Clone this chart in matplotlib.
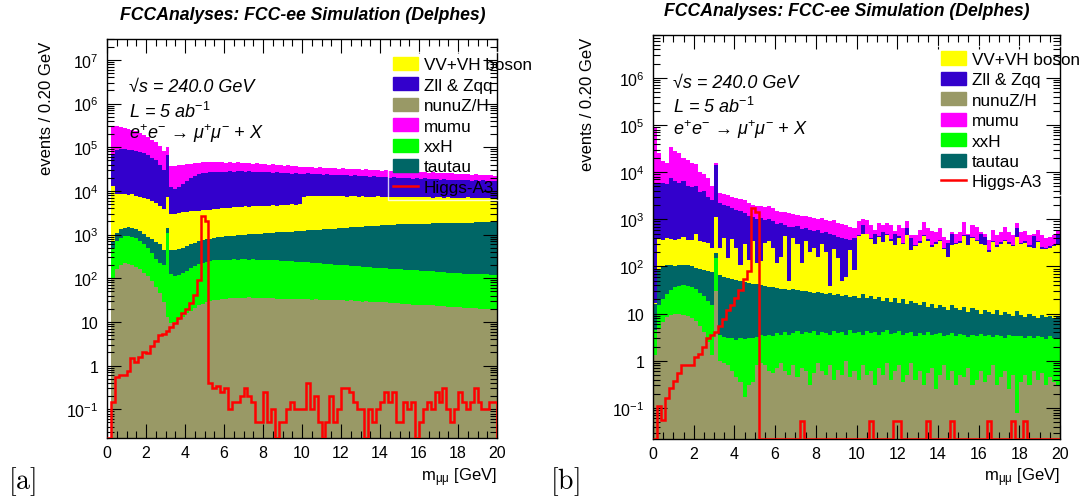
import numpy as np
import matplotlib
matplotlib.use('Agg')
import matplotlib.pyplot as plt
from matplotlib.patches import Patch
from matplotlib.lines import Line2D
from matplotlib.ticker import MultipleLocator, LogLocator, NullFormatter

plt.rcParams['font.family'] = ['Liberation Sans', 'DejaVu Sans']
plt.rcParams['mathtext.fontset'] = 'custom'
plt.rcParams['mathtext.rm'] = 'Liberation Sans'
plt.rcParams['mathtext.it'] = 'Liberation Sans:italic'
plt.rcParams['mathtext.bf'] = 'Liberation Sans:bold'

# m_mumu binning: 100 bins of 0.20 GeV
edges = np.linspace(0, 20, 101)

labels = ['VV+VH boson', 'Zll & Zqq', 'nunuZ/H', 'mumu', 'xxH', 'tautau', 'Higgs-A3']
colors = {'vv': '#ffff00', 'zll': '#3300cc', 'nunu': '#999966',
          'mumu': '#ff00ff', 'xxh': '#00ff00', 'tautau': '#006666'}

# ---------------- panel [a] : events per bin ----------------
a_nunu = [0, 100, 160, 200, 220, 215, 205, 185, 160, 135,
          110, 85, 62, 45, 28, 13, 9.5, 10, 11, 13,
          16, 18, 21, 24, 26, 28, 30, 31, 32, 33,
          34, 35, 35, 36, 36, 36, 37, 36, 36, 36,
          35, 35, 35, 34, 34, 34, 34, 33, 34, 33,
          33, 33, 32, 33, 32, 32, 32, 31, 32, 31,
          31, 30, 31, 30, 30, 29, 30, 29, 29, 28,
          28, 28, 27, 27, 27, 26, 26, 26, 25, 25,
          25, 24, 24, 24, 23, 23, 23, 22, 22, 22,
          22, 21, 21, 21, 21, 20, 20, 20, 20, 20]
a_xxh = [0, 400, 540, 650, 700, 715, 695, 645, 560, 465,
         370, 285, 220, 175, 170, 1050, 115, 105, 110, 117,
         134, 152, 169, 186, 199, 212, 220, 224, 228, 229,
         231, 233, 235, 232, 236, 234, 231, 234, 230, 228,
         227, 225, 223, 221, 218, 216, 213, 211, 206, 203,
         200, 197, 194, 189, 187, 184, 180, 178, 174, 172,
         169, 167, 163, 161, 158, 156, 152, 150, 147, 145,
         142, 140, 138, 136, 134, 133, 131, 129, 128, 126,
         124, 123, 121, 119, 118, 116, 114, 113, 111, 109,
         108, 107, 106, 105, 104, 104, 103, 102, 101, 100]
a_tautau = [0, 200, 400, 500, 530, 570, 550, 520, 480, 450,
            420, 410, 400, 380, 250, 330, 325, 325, 340, 370,
            400, 430, 460, 490, 515, 540, 560, 585, 600, 618,
            640, 650, 670, 690, 710, 720, 740, 760, 780, 790,
            810, 830, 840, 860, 880, 900, 910, 930, 950, 960,
            990, 1010, 1030, 1060, 1080, 1100, 1130, 1150, 1170, 1200,
            1220, 1240, 1270, 1290, 1310, 1330, 1360, 1380, 1400, 1430,
            1450, 1470, 1490, 1520, 1540, 1550, 1560, 1580, 1590, 1600,
            1610, 1620, 1640, 1650, 1660, 1670, 1680, 1700, 1710, 1720,
            1730, 1740, 1750, 1760, 1780, 1780, 1790, 1790, 1800, 1800]
a_vv = [0, 12300, 7400, 7250, 6850, 6700, 6950, 6450, 6100, 5950,
        5600, 5220, 4520, 3900, 3350, 6000, 2550, 2560, 2640, 2700,
        2750, 2800, 2850, 2700, 2860, 2920, 2790, 2960, 3040, 3120,
        3200, 3080, 3260, 3340, 3220, 3400, 3290, 3470, 3360, 3540,
        3430, 3510, 3600, 3480, 3670, 3550, 3640, 3720, 3610, 3700,
        6180, 6360, 6240, 6420, 6300, 6180, 6360, 6240, 6120, 6200,
        6080, 5960, 6140, 6020, 5800, 5980, 5860, 5740, 5820, 5900,
        5680, 5760, 5540, 5620, 5700, 5490, 5580, 5370, 5560, 5450,
        5340, 5430, 5320, 5210, 5400, 5290, 5180, 5270, 5060, 5150,
        5140, 5030, 5220, 5010, 5100, 4900, 4990, 5090, 4880, 4980]
a_zll = [0, 57000, 76500, 81400, 81700, 79800, 76600, 74200, 70700, 65000,
         59500, 52000, 44800, 35500, 26200, 58600, 9000, 8000, 8900, 10800,
         13700, 16600, 18500, 20600, 21400, 22300, 22900, 23200, 23100, 23500,
         22900, 24000, 23300, 24200, 23800, 23100, 23700, 22500, 23100, 22400,
         22000, 22400, 21300, 21900, 21200, 20800, 21200, 20100, 20700, 20100,
         17100, 17400, 16500, 16800, 16400, 16000, 16300, 15400, 16000, 15400,
         15000, 15600, 14400, 15000, 14700, 14000, 14600, 13700, 14100, 13500,
         13200, 13600, 12800, 13200, 12600, 12300, 12700, 12400, 11700, 12300,
         11900, 12300, 11400, 12000, 11300, 10900, 11500, 10900, 10600, 11000,
         10500, 11100, 10400, 10100, 10500, 10200, 10600, 10000, 9700, 10100]
a_mumu = [0, 240000, 215000, 200000, 185000, 177000, 160000, 148000, 132000, 118000,
          104000, 92000, 80000, 65000, 50000, 34000, 26000, 27000, 27000, 26000,
          24000, 22000, 21000, 20000, 20000, 19000, 19500, 18000, 19000, 17500,
          17000, 17000, 16500, 16500, 15000, 16500, 15000, 15000, 15500, 15000,
          14500, 13000, 15000, 13500, 13000, 12500, 13000, 13000, 11500, 11000,
          10500, 11000, 11000, 9500, 11000, 10500, 9000, 11000, 9500, 9000,
          10500, 9000, 9000, 9500, 9000, 8500, 9000, 9000, 8000, 9000,
          8500, 8500, 8500, 8500, 8000, 9000, 8000, 8000, 9000, 7500,
          8000, 7000, 7500, 7500, 7000, 8000, 6500, 7500, 7500, 6500,
          7000, 6000, 7000, 6500, 6500, 6000, 6000, 5500, 6500, 5000]
a_higgs = [0, 0.15, 0.55, 0.6, 0.6, 0.75, 1.5, 1.2, 1.6, 2.1,
           1.9, 2.8, 3.6, 5.0, 5.4, 6.2, 7.5, 9.5, 12, 16,
           20, 27, 42, 90, 2600, 2000, 0.4, 0.3, 0.35, 0.25,
           0.3, 0.1, 0.15, 0.15, 0.2, 0.3, 0.2, 0.15, 0.05, 0.05,
           0.25, 0.05, 0.1, 0, 0.05, 0.05, 0.1, 0.15, 0.1, 0.1,
           0.1, 0.4, 0.1, 0.2, 0.05, 0, 0.05, 0.2, 0.05, 0.1,
           0.3, 0.3, 0.25, 0.15, 0.1, 0.1, 0, 0.1, 0.05, 0.1,
           0.15, 0.25, 0.15, 0.25, 0.05, 0.05, 0.15, 0.1, 0.15, 0,
           0.05, 0.1, 0.15, 0.1, 0.25, 0.15, 0.3, 0.1, 0.05, 0.1,
           0.25, 0.15, 0.1, 0.15, 0.3, 0.15, 0.1, 0.1, 0.15, 0.15]

# ---------------- panel [b] : events per bin ----------------
b_nunu = [1.3, 4.8, 6.6, 8.5, 9.5, 10, 10, 9.5, 9, 8,
          7, 5.5, 4, 2.5, 1.3, 30, 1.0, 0.9, 0.8, 0.6,
          0.45, 0.35, 0.17, 0.3, 0.35, 0.8, 0.9, 0.8, 0.6, 0.55,
          0.7, 0.9, 0.6, 0.5, 0.8, 0.45, 0.7, 0.6, 0.3, 0.55,
          0.9, 0.6, 0.5, 0.8, 0.4, 0.65, 0.5, 1.0, 0.45, 0.6,
          0.4, 0.8, 0.5, 0.6, 0.3, 0.7, 0.5, 0.9, 0.4, 0.6,
          0.8, 0.35, 0.5, 0.9, 0.4, 0.6, 0.3, 0.55, 0.7, 0.25,
          0.5, 0.8, 0.4, 0.6, 0.3, 0.5, 0.45, 0.7, 0.3, 0.4,
          0.6, 0.35, 0.5, 0.8, 0.3, 0.45, 0.6, 0.25, 0.5, 0.08,
          0.35, 0.5, 0.3, 0.6, 0.4, 0.55, 0.3, 0.45, 0.35, 0.3]
b_xxh = [3.2, 10.2, 13.4, 17.5, 22.5, 26, 28, 30.5, 30, 29,
         26, 22.5, 20, 16.5, 13.7, 120, 2.5, 2.3, 2.2, 2.4,
         2.35, 2.65, 2.73, 2.8, 2.65, 2.4, 2.6, 2.5, 3.0, 2.85,
         3.1, 2.6, 3.4, 3.1, 3.1, 3.75, 3.0, 3.4, 3.5, 3.75,
         2.7, 3.5, 3.4, 2.7, 3.8, 3.15, 3.5, 2.6, 3.95, 3.3,
         3.6, 2.8, 3.8, 3.2, 3.8, 2.8, 3.5, 3.5, 3.3, 3.3,
         3.4, 3.25, 3.3, 3.2, 3.0, 3.3, 3.3, 3.45, 2.8, 3.45,
         3.4, 2.6, 3.2, 3.2, 3.0, 3.2, 3.05, 2.5, 3.3, 3.0,
         3.1, 2.95, 3.0, 2.4, 3.3, 2.95, 2.5, 3.25, 2.8, 3.2,
         3.05, 2.6, 3.0, 2.4, 3.0, 2.65, 2.6, 2.85, 2.75, 2.6]
b_tautau = [11.5, 75, 80, 79, 73, 64, 67, 70, 66, 63,
            62, 62, 61, 61, 60, 40, 61.5, 56.8, 55, 52,
            49.2, 47, 45.1, 41.9, 40, 38.8, 36.5, 34.7, 33.4, 32.6,
            31.2, 30.5, 29, 28.4, 30.1, 26.8, 26.3, 26, 25.2, 23.7,
            25.4, 22.9, 22.1, 23.5, 20.8, 22.2, 20, 21.4, 18.6, 20.1,
            18, 22.4, 16.7, 20.2, 15.9, 19.5, 15, 17.6, 14.3, 17.1,
            12.8, 16.4, 12.2, 14.9, 13.6, 11.1, 14.4, 10, 12.5, 9.3,
            11.1, 10.6, 8.4, 11.2, 9.7, 8.3, 10.5, 7.8, 9.4, 8.6,
            6.3, 8.7, 7.5, 6.8, 8.4, 6.1, 7.9, 6.5, 5.7, 8,
            6.1, 5.4, 6.7, 6.0, 4.6, 6.3, 5.6, 5.7, 4.9, 5.6]
b_vv = [0.5, 290, 270, 295, 285, 260, 275, 310, 265, 260,
        385, 260, 245, 230, 175, 910, 185, 340, 92, 325,
        198, 60, 252, 95, 307, 78, 90, 282, 313, 214,
        85, 126, 417, 18, 366, 269, 90, 320, 171, 222,
        131, 273, 174, 11, 215, 124, 26, 35, 197, 61,
        428, 474, 459, 356, 280, 397, 311, 438, 332, 259,
        393, 280, 454, 201, 253, 305, 432, 336, 244, 287,
        325, 216, 148, 265, 287, 308, 436, 269, 387, 338,
        290, 268, 189, 320, 248, 290, 339, 290, 261, 409,
        290, 311, 250, 241, 322, 230, 221, 241, 262, 271]
b_zll = [5480, 5420, 5630, 5100, 7110, 6140, 5620, 6080, 4630, 4440,
         4720, 3450, 3670, 2690, 2350, 12900, 1950, 1600, 1750, 1320,
         1350, 1390, 1050, 1060, 750, 880, 920, 630, 650, 650,
         680, 660, 300, 650, 280, 420, 500, 290, 380, 310,
         440, 220, 350, 442, 220, 280, 350, 320, 140, 315,
         20, 250, 20, 30, 180, 20, 200, 20, 30, 200,
         25, 20, 200, 180, 20, 30, 20, 25, 20, 30,
         25, 20, 150, 200, 20, 25, 20, 180, 25, 20,
         200, 150, 20, 25, 20, 30, 20, 25, 20, 250,
         20, 25, 20, 200, 20, 25, 20, 25, 20, 220]
b_mumu = [79500, 19200, 11000, 10500, 27500, 21500, 19000, 13500, 13000, 11200,
          9800, 6200, 5000, 4500, 2400, 2000, 1500, 1500, 1400, 1300,
          1200, 1200, 1250, 1000, 900, 900, 850, 850, 900, 800,
          700, 630, 650, 650, 620, 530, 580, 510, 520, 490,
          400, 530, 400, 420, 490, 420, 400, 380, 340, 250,
          430, 250, 450, 350, 110, 380, 230, 340, 380, 85,
          325, 320, 230, 60, 175, 240, 420, 265, 285, 220,
          275, 180, 55, 60, 180, 205, 420, 40, 335, 330,
          50, 70, 145, 235, 185, 220, 330, 225, 175, 150,
          230, 220, 185, 40, 240, 200, 150, 155, 175, 60]
b_higgs = [0, 0.11, 0.055, 0.16, 0.26, 0.38, 0.55, 0.8, 0.8, 0.8,
           1.2, 1.4, 2.0, 3.0, 3.6, 4.1, 5.5, 7.8, 12, 15,
           21, 31, 55, 80, 1700, 1400, 0, 0, 0, 0,
           0, 0, 0, 0, 0, 0, 0.054, 0, 0, 0,
           0, 0, 0, 0, 0, 0, 0, 0, 0, 0,
           0, 0, 0, 0.054, 0, 0, 0, 0, 0, 0.054,
           0.054, 0, 0, 0, 0, 0, 0, 0.054, 0, 0,
           0, 0, 0, 0.054, 0, 0, 0, 0, 0, 0,
           0, 0, 0.054, 0, 0, 0, 0, 0, 0.054, 0,
           0, 0.054, 0, 0, 0, 0, 0, 0, 0, 0]

a_yticks = [1e-1, 1, 10, 1e2, 1e3, 1e4, 1e5, 1e6, 1e7]
a_ylabels = ['$10^{-1}$', '1', '10', '$10^{2}$', '$10^{3}$', '$10^{4}$',
             '$10^{5}$', '$10^{6}$', '$10^{7}$']
b_yticks = a_yticks[:-1]
b_ylabels = a_ylabels[:-1]

W, H = 1084, 502
fig = plt.figure(figsize=(W / 100, H / 100), dpi=100)


def px_axes(left, top, right, bottom):
    return fig.add_axes([left / W, 1 - bottom / H, (right - left) / W, (bottom - top) / H])


def draw_panel(ax, stack, higgs, ylim, yticks, ylabels):
    # stack: bottom -> top
    vals = np.array([s[0] for s in stack], dtype=float)
    tops = np.cumsum(vals, axis=0)
    floor = 1e-4
    for i in range(len(stack) - 1, -1, -1):
        ax.stairs(np.maximum(tops[i], floor), edges, baseline=floor,
                  fill=True, color=stack[i][1], lw=0)
    h = np.array(higgs, dtype=float)
    h = np.where(h > 0, h, ylim[0])
    ax.stairs(h, edges, baseline=ylim[0], color='#ff0000', lw=1.8, zorder=3)

    ax.set_yscale('log')
    ax.set_xlim(0, 20)
    ax.set_ylim(*ylim)
    ax.set_yticks(yticks)
    ax.set_yticklabels(ylabels)
    ax.yaxis.set_minor_locator(LogLocator(base=10, subs=np.arange(2, 10), numticks=30))
    ax.yaxis.set_minor_formatter(NullFormatter())
    ax.xaxis.set_major_locator(MultipleLocator(2))
    ax.xaxis.set_minor_locator(MultipleLocator(0.5))
    ax.tick_params(which='both', direction='in', top=True, right=True,
                   width=0.8, labelsize=11.5)
    ax.tick_params(which='major', length=10)
    ax.tick_params(which='minor', length=5)
    ax.tick_params(axis='x', pad=5)
    ax.tick_params(axis='y', pad=6)
    for sp in ax.spines.values():
        sp.set_linewidth(1.0)

    handles = [Patch(facecolor=colors[k], edgecolor=colors[k])
               for k in ['vv', 'zll', 'nunu', 'mumu', 'xxh', 'tautau']]
    handles.append(Line2D([], [], color='#ff0000', lw=1.8))
    return handles


def add_legend(ax, handles, x0, y0):
    leg = ax.legend(handles, labels, loc='upper left', bbox_to_anchor=(x0, y0),
                    borderaxespad=0, fontsize=12.3, handlelength=1.45, handleheight=0.8,
                    handletextpad=0.35, labelspacing=0.29, borderpad=0.3,
                    fancybox=False, facecolor='none', edgecolor='white')
    leg.get_frame().set_linewidth(1.0)


ax_a = px_axes(107, 40, 497, 439)
stack_a = [(a_nunu, colors['nunu']), (a_xxh, colors['xxh']), (a_tautau, colors['tautau']),
           (a_vv, colors['vv']), (a_zll, colors['zll']), (a_mumu, colors['mumu'])]
hd = draw_panel(ax_a, stack_a, a_higgs, (0.022, 3.0e7), a_yticks, a_ylabels)
add_legend(ax_a, hd, 0.72, 0.968)

ax_b = px_axes(653, 36, 1060, 440)
stack_b = [(b_nunu, colors['nunu']), (b_xxh, colors['xxh']), (b_tautau, colors['tautau']),
           (b_vv, colors['vv']), (b_zll, colors['zll']), (b_mumu, colors['mumu'])]
hd = draw_panel(ax_b, stack_b, b_higgs, (0.022, 8.1e6), b_yticks, b_ylabels)
add_legend(ax_b, hd, 0.695, 0.972)

title = 'FCCAnalyses: FCC-ee Simulation (Delphes)'
ann = ['√s = 240.0 GeV', 'L = 5 ab$^{-1}$', 'e$^{+}$e$^{-}$ → μ$^{+}$μ$^{-}$ + X']

for (cx, ty, lx, rows, ylx, ylt, xr, plx, plab) in [
        (303, 15, 129, (88, 112, 134), 47, 42, 497, 8, '[a]'),
        (847, 12, 673, (83, 107, 130), 588, 38, 1060, 550, '[b]')]:
    fig.text(cx / W, 1 - ty / H, title, ha='center', va='center',
             fontsize=12.7, fontweight='bold', fontstyle='italic')
    for r, s in zip(rows, ann):
        fig.text(lx / W, 1 - r / H, s, ha='left', va='center', fontsize=13, fontstyle='italic')
    fig.text(ylx / W, 1 - ylt / H, 'events / 0.20 GeV', rotation=90,
             ha='center', va='top', fontsize=12)
    fig.text(xr / W, 1 - 478 / H, r'm$_{\mathrm{μμ}}$ [GeV]', ha='right', va='center', fontsize=12)
    fig.text(plx / W, 1 - 482 / H, r'$[\mathrm{' + plab[1] + r'}]$', ha='left', va='center',
             fontsize=20, math_fontfamily='cm')

fig.savefig('out.png', dpi=100)
